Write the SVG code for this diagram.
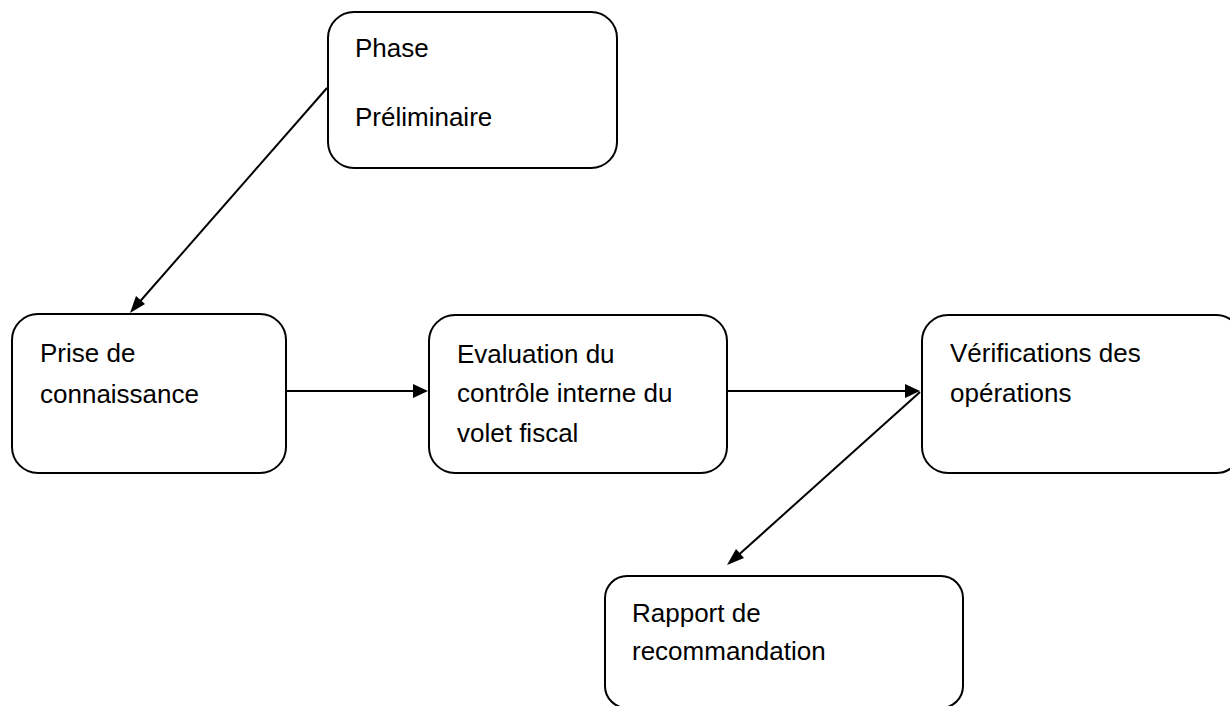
<svg xmlns="http://www.w3.org/2000/svg" width="1230" height="706" viewBox="0 0 1230 706">
<defs>
<style>
.box{fill:#fff;stroke:#000;stroke-width:2}
.t{font-family:"Liberation Sans",Arial,sans-serif;font-size:26px;fill:#000}
.c{stroke:#000;stroke-width:2;fill:none}
.h{fill:#000;stroke:none}
</style>
</defs>
<rect width="1230" height="706" fill="#fff"/>
<g id="connectors">
<line class="c" x1="327" y1="88" x2="136" y2="306"/>
<path class="h" d="M130,313 L136,296 L145,304 Z"/>
<line class="c" x1="287" y1="391" x2="416" y2="391"/>
<path class="h" d="M428,391 L413,384 L413,398 Z"/>
<line class="c" x1="728" y1="391" x2="908" y2="391"/>
<path class="h" d="M920,391 L905,384 L905,398 Z"/>
<line class="c" x1="920" y1="392" x2="734" y2="559"/>
<path class="h" d="M727,565 L736,549 L744,558 Z"/>
</g>
<g id="node-phase">
<rect class="box" x="328" y="12" width="289" height="156" rx="26"/>
<text class="t" x="355" y="57">Phase</text>
<text class="t" x="355" y="126">Préliminaire</text>
</g>
<g id="node-prise">
<rect class="box" x="12" y="314" width="274" height="159" rx="26"/>
<text class="t" x="40" y="362">Prise de</text>
<text class="t" x="40" y="403">connaissance</text>
</g>
<g id="node-evaluation">
<rect class="box" x="429" y="315" width="298" height="158" rx="26"/>
<text class="t" x="457" y="363">Evaluation du</text>
<text class="t" x="457" y="402">contrôle interne du</text>
<text class="t" x="457" y="442">volet fiscal</text>
</g>
<g id="node-verifications">
<rect class="box" x="922" y="315" width="320" height="158" rx="26"/>
<text class="t" x="950" y="362">Vérifications des</text>
<text class="t" x="950" y="402">opérations</text>
</g>
<g id="node-rapport">
<rect class="box" x="605" y="576" width="358" height="132" rx="22"/>
<text class="t" x="632" y="622">Rapport de</text>
<text class="t" x="632" y="660">recommandation</text>
</g>
</svg>
